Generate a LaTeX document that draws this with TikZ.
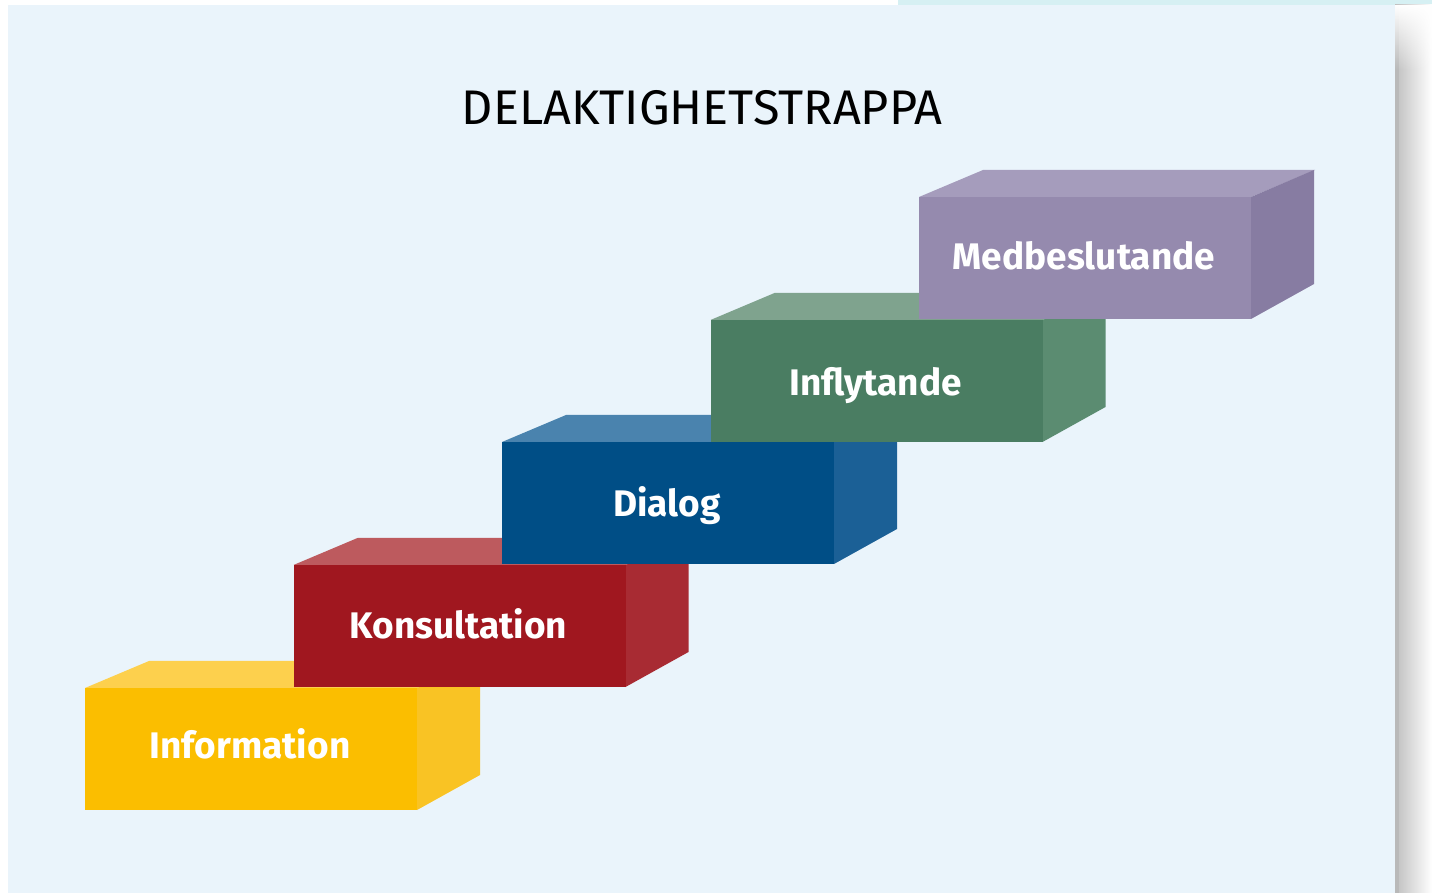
\documentclass[tikz,border=0pt]{standalone}
\usepackage{fontspec}
\setmainfont{Fira Sans}
\usepackage{xcolor}
\usetikzlibrary{fadings}

\definecolor{panel}{HTML}{EAF4FB}
\definecolor{stripe}{HTML}{D6F0F3}
\definecolor{infofront}{HTML}{FBBE00}
\definecolor{infotop}{HTML}{FDD04D}
\definecolor{infoside}{HTML}{F9C324}
\definecolor{konsfront}{HTML}{A0171F}
\definecolor{konstop}{HTML}{BD5A5E}
\definecolor{konsside}{HTML}{A82B33}
\definecolor{dialfront}{HTML}{004E86}
\definecolor{dialtop}{HTML}{4A83AE}
\definecolor{dialside}{HTML}{1B6096}
\definecolor{inflfront}{HTML}{4A7D62}
\definecolor{infltop}{HTML}{7FA38E}
\definecolor{inflside}{HTML}{5B8C71}
\definecolor{medbfront}{HTML}{958AAE}
\definecolor{medbtop}{HTML}{A59CBC}
\definecolor{medbside}{HTML}{877CA2}

\begin{document}
\begin{tikzpicture}[x=0.5pt,y=-0.5pt,
  steplabel/.style={text=white,anchor=base,font=\bfseries\fontsize{18.5}{22}\selectfont},
  titlelabel/.style={text=black,font=\fontsize{24.3}{28}\selectfont}]
\useasboundingbox (0,0) rectangle (1432,893);
% background
\fill[white] (0,0) rectangle (1432,893);
\fill[stripe] (898,0) rectangle (1432,5);
\fill[panel] (8,5) rectangle (1395,893);
\shade[left color=gray!50, right color=white] (1395,5) rectangle (1432,893);
\fill[gray!55] (1395,5) rectangle (1399,893);
\fill[white,path fading=south] (1395,5) rectangle (1432,70);
% title
\node[titlelabel] (title) at (702,108) {DELAKTIGHETSTRAPPA};
% steps
\foreach \x/\y/\b/\c/\n/\t in {85/688/70/info/information/Information,
    293.5/565/74/kons/konsultation/Konsultation,
    502/442/75/dial/dialog/Dialog,
    710.5/320/76/infl/inflytande/Inflytande,
    919/197/73/medb/medbeslutande/Medbeslutande}{
  \fill[\c top] (\x,\y) -- ++(64,-27) -- ++(332,0) -- ++(-64,27) -- cycle;
  \fill[\c side] (\x+332,\y) -- ++(63,-27) -- ++(0,114) -- ++(-63,35) -- cycle;
  \fill[\c front] (\x,\y) rectangle ++(332,122);
  \node[steplabel] (\n) at (\x+165,\y+\b) {\t};
}
\end{tikzpicture}
\end{document}
